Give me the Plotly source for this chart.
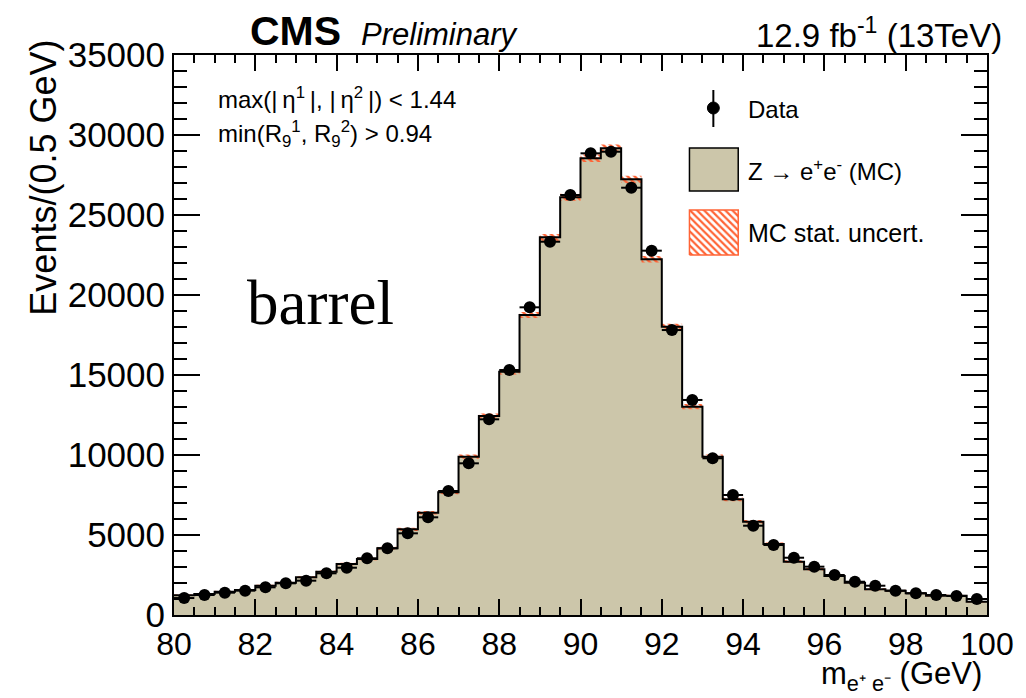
import numpy as np
import plotly.graph_objects as go

# ---------------- data ----------------
bin_lo = [80.0 + 0.5 * i for i in range(40)]
bin_width = 0.5
x_hi = 100.0

mc = [1230, 1310, 1455, 1560, 1830, 2020, 2355, 2705, 3190, 3500,
      4170, 5355, 6395, 7670, 9895, 12440, 15205, 18750, 23605, 26105,
      28545, 29170, 27230, 22230, 18020, 13020, 9895, 7230, 5830, 4440,
      3330, 2855, 2440, 2020, 1605, 1520, 1355, 1205, 1205, 830]

mc_err = [50, 50, 55, 55, 60, 60, 65, 70, 75, 80,
          90, 100, 110, 120, 135, 150, 170, 185, 210, 220,
          230, 235, 225, 205, 185, 160, 135, 120, 105, 95,
          85, 75, 70, 65, 60, 60, 55, 55, 55, 50]

data = [1060, 1250, 1395, 1520, 1730, 1980, 2145, 2605, 2955, 3545,
        4170, 5105, 6105, 7750, 9480, 12230, 15310, 19230, 23330, 26250,
        28855, 28955, 26705, 22770, 17810, 13440, 9795, 7500, 5580, 4375,
        3580, 3020, 2500, 2080, 1830, 1520, 1355, 1250, 1190, 1000]

x_ticks = [80, 82, 84, 86, 88, 90, 92, 94, 96, 98, 100]
y_ticks = [0, 5000, 10000, 15000, 20000, 25000, 30000, 35000]

# ---------------- styles ----------------
TAN = "#ccc6aa"
HATCH = "#ff6436"
FONT = "Liberation Sans"

W, H = 1026, 698
L, R, T, B = 174, 35, 55, 83
PW, PH = W - L - R, H - T - B


def px(xp):
    return (xp - L) / PW


def py(yp):
    return (H - B - yp) / PH


bin_lo_a = np.array(bin_lo)
centers = bin_lo_a + bin_width / 2
mc_a = np.array(mc, dtype=float)
err_a = np.array(mc_err, dtype=float)
data_a = np.array(data, dtype=float)

step_x = list(bin_lo) + [x_hi]
step_y = list(mc) + [mc[-1]]
lo_band = list(mc_a - err_a) + [mc[-1] - mc_err[-1]]
hi_band = list(mc_a + err_a) + [mc[-1] + mc_err[-1]]

fig = go.Figure()

# MC filled histogram
fig.add_trace(go.Scatter(x=step_x, y=step_y, mode="lines", line_shape="hv",
                         line=dict(width=0), fill="tozeroy", fillcolor=TAN,
                         hoverinfo="skip", showlegend=False))

# MC stat uncertainty hatched band (between two step curves)
fig.add_trace(go.Scatter(x=step_x, y=lo_band, mode="lines", line_shape="hv",
                         line=dict(width=0, color="rgba(0,0,0,0)"),
                         hoverinfo="skip", showlegend=False))
fig.add_trace(go.Scatter(x=step_x, y=hi_band, mode="lines", line_shape="hv",
                         line=dict(width=0, color="rgba(0,0,0,0)"),
                         fill="tonexty", fillcolor="rgba(0,0,0,0)",
                         fillpattern=dict(shape="\\", fgcolor=HATCH,
                                          bgcolor="rgba(0,0,0,0)",
                                          fgopacity=1, size=5, solidity=0.5,
                                          fillmode="overlay"),
                         hoverinfo="skip", showlegend=False))

# MC outline
fig.add_trace(go.Scatter(x=step_x, y=step_y, mode="lines", line_shape="hv",
                         line=dict(color="black", width=2),
                         showlegend=False))

# Data
fig.add_trace(go.Scatter(x=centers, y=data_a, mode="markers",
                         marker=dict(color="black", size=12),
                         error_x=dict(type="constant", value=bin_width / 2,
                                      color="black", thickness=2, width=0),
                         error_y=dict(type="data", array=np.sqrt(data_a),
                                      color="black", thickness=2, width=0),
                         showlegend=False))

# overlay axes for legend swatch (paper-like coordinates)
sw_x0, sw_x1, sw_y0, sw_y1 = px(692), px(741), py(255), py(210)
fig.add_trace(go.Scatter(x=[sw_x0, sw_x1, sw_x1, sw_x0, sw_x0],
                         y=[sw_y0, sw_y0, sw_y1, sw_y1, sw_y0],
                         xaxis="x2", yaxis="y2", mode="lines", fill="toself",
                         line=dict(color=HATCH, width=1.5),
                         fillcolor="rgba(0,0,0,0)",
                         fillpattern=dict(shape="\\", fgcolor=HATCH,
                                          bgcolor="rgba(0,0,0,0)",
                                          fgopacity=1,
                                          size=5, solidity=0.45,
                                          fillmode="overlay"),
                         showlegend=False, hoverinfo="skip"))

axis_common = dict(showgrid=False, zeroline=False, showline=True,
                   linecolor="black", linewidth=2, mirror="allticks",
                   ticks="inside", tickcolor="black", tickwidth=1.5)

shapes = [
    # legend: Data marker
    dict(type="line", xref="paper", yref="paper", x0=px(716), x1=px(716),
         y0=py(90), y1=py(127), line=dict(color="black", width=2)),
    dict(type="circle", xref="paper", yref="paper", x0=px(710), x1=px(722),
         y0=py(114), y1=py(102), fillcolor="black",
         line=dict(color="black", width=1)),
    # legend: MC box
    dict(type="rect", xref="paper", yref="paper", x0=px(692), x1=px(741),
         y0=py(191), y1=py(148), fillcolor=TAN,
         line=dict(color="black", width=1.5)),
]

ann = [
    dict(text="<b>CMS</b>", x=px(248), y=py(31), xanchor="left", yanchor="middle",
         font=dict(family=FONT, size=41, color="black")),
    dict(text="<i>Preliminary</i>", x=px(360), y=py(35), xanchor="left", yanchor="middle",
         font=dict(family=FONT, size=31, color="black")),
    dict(text="12.9 fb<sup>-1</sup> (13TeV)", x=px(1008), y=py(33), xanchor="right",
         yanchor="middle", font=dict(family=FONT, size=33, color="black")),
    dict(text="max(|\u2009\u03b7<sup>1</sup>\u2009|, |\u2009\u03b7<sup>2</sup>\u2009|) < 1.44",
         x=px(216), y=py(98), xanchor="left", yanchor="middle",
         font=dict(family=FONT, size=24, color="black")),
    dict(text="min(R<sub>9</sub><sup>1</sup>, R<sub>9</sub><sup>2</sup>) > 0.94",
         x=px(216), y=py(134), xanchor="left", yanchor="middle",
         font=dict(family=FONT, size=24, color="black")),
    dict(text="barrel", x=px(245), y=py(303), xanchor="left", yanchor="middle",
         font=dict(family="Liberation Serif", size=63, color="black")),
    dict(text="Data", x=px(749), y=py(109), xanchor="left", yanchor="middle",
         font=dict(family=FONT, size=24, color="black")),
    dict(text="Z \u2192 e<sup>+</sup>e<sup>-</sup> (MC)", x=px(749), y=py(170),
         xanchor="left", yanchor="middle", font=dict(family=FONT, size=24, color="black")),
    dict(text="MC stat. uncert.", x=px(749), y=py(233), xanchor="left", yanchor="middle",
         font=dict(family=FONT, size=25, color="black")),
    dict(text="Events/(0.5 GeV)", x=px(42), y=py(38), xanchor="center", yanchor="top",
         textangle=-90, font=dict(family=FONT, size=36, color="black")),
    dict(text="m<sub>e\u207a e\u207b</sub> (GeV)", x=px(988), y=py(676),
         xanchor="right", yanchor="middle",
         font=dict(family=FONT, size=31, color="black")),
]
for a in ann:
    a.update(xref="paper", yref="paper", showarrow=False)

fig.update_layout(
    width=W, height=H, margin=dict(l=L, r=R, t=T, b=B, pad=0),
    paper_bgcolor="white", plot_bgcolor="white",
    xaxis=dict(range=[80, 100], tickvals=x_ticks, ticklen=16,
               tickfont=dict(family=FONT, size=32, color="black"),
               minor=dict(dtick=0.5, ticklen=8, ticks="inside",
                          tickcolor="black", tickwidth=1.5),
               **axis_common),
    yaxis=dict(range=[0, 35000], tickvals=y_ticks, tickformat="d", ticklen=26,
               tickfont=dict(family=FONT, size=35, color="black"),
               minor=dict(dtick=1000, ticklen=13, ticks="inside",
                          tickcolor="black", tickwidth=1.5),
               **axis_common),
    xaxis2=dict(range=[0, 1], overlaying="x", visible=False, anchor="y2",
                domain=[0, 1], fixedrange=True),
    yaxis2=dict(range=[0, 1], overlaying="y", visible=False, anchor="x2",
                domain=[0, 1], fixedrange=True),
    shapes=shapes, annotations=ann, showlegend=False,
)

fig.write_html("out.html")
